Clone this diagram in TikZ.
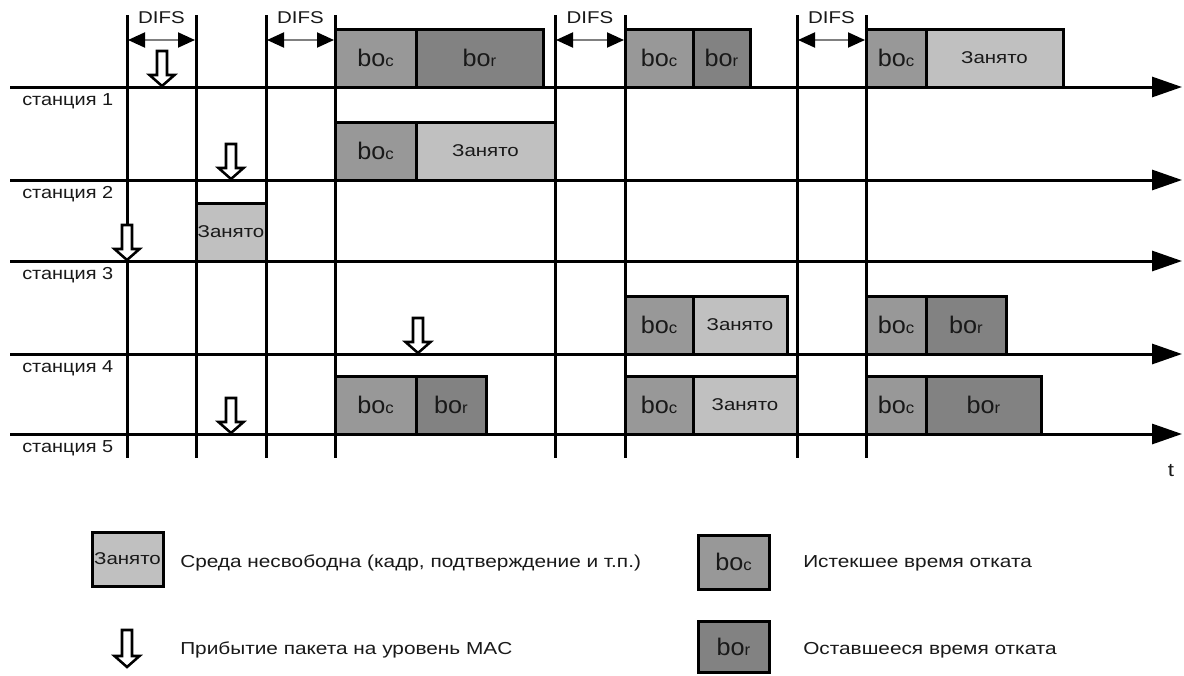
\documentclass[tikz,border=0pt]{standalone}
\usepackage{fontspec}
\setmainfont{Liberation Sans}[FakeStretch=1.2]
\newfontfamily\wideface{Liberation Sans}[FakeStretch=1.15]
\newfontfamily\boface{Liberation Sans}[FakeStretch=1.05]
\usetikzlibrary{arrows.meta}
\definecolor{boc}{RGB}{152,152,152}
\definecolor{bor}{RGB}{130,130,130}
\definecolor{busy}{RGB}{192,192,192}
\newcommand\fs[1]{\fontsize{#1}{#1}\selectfont}
\newcommand\boc{{\boface\fs{18}bo}{\boface\fs{12}c}}
\newcommand\bor{{\boface\fs{18}bo}{\boface\fs{12}r}}
\newcommand\busy{{\fs{12.8}Занято}}
\newcommand\slot[6]{\node[#2,minimum width={(#4-#3)*0.75pt}] (#1) at (#3,#5) {#6};}
\newcommand\pkt[3]{\draw[pkt] ({#1-5},{#2-#3}) -- ({#1+5},{#2-#3}) -- ({#1+5},{#2-11}) -- ({#1+12.5},{#2-11}) -- (#1,#2) -- ({#1-12.5},{#2-11}) -- ({#1-5},{#2-11}) -- cycle;}
\begin{document}
\begin{tikzpicture}[x=0.75pt,y=-0.75pt,
 axis/.style={line width=2.25pt,-{Triangle[length=22.5pt,width=15pt]}},
 vline/.style={line width=2.25pt},
 box/.style={draw,line width=2.25pt,inner sep=0pt,outer sep=0pt,minimum height=43.5pt,anchor=south west,text=black!90},
 bc/.style={box,fill=boc}, br/.style={box,fill=bor}, bz/.style={box,fill=busy},
 difs/.style={line width=1.5pt,draw=gray,{Triangle[length=12.75pt,width=11.25pt,color=black]}-{Triangle[length=12.75pt,width=11.25pt,color=black]}},
 pkt/.style={line width=1.9pt,fill=white,line join=miter},
 lbl/.style={font=\fs{13},anchor=west,inner sep=0pt,text=black!90},
 stn/.style={font=\wideface\fs{13},anchor=west,inner sep=0pt,text=black!90},
 dl/.style={font=\fs{12.8},inner sep=0pt,text=black!90}
]
\useasboundingbox[fill=white] (0,0) rectangle (1184,675);

% boxes, station 1
\slot{a1}{bc}{335}{416}{87}{\boc}
\slot{a2}{br}{416}{543}{87}{\bor}
\slot{a3}{bc}{625}{693}{87}{\boc}
\slot{a4}{br}{693}{750}{87}{\bor}
\slot{a5}{bc}{866}{926}{87}{\boc}
\slot{a6}{bz}{926}{1063}{87}{\busy}
% station 2
\slot{b1}{bc}{335}{416}{180}{\boc}
\slot{b2}{bz}{416}{555}{180}{\busy}
% station 3
\slot{c1}{bz}{196}{266}{261}{\busy}
% station 4
\slot{d1}{bc}{625}{693}{354}{\boc}
\slot{d2}{bz}{693}{787}{354}{\busy}
\slot{d3}{bc}{866}{926}{354}{\boc}
\slot{d4}{br}{926}{1006}{354}{\bor}
% station 5
\slot{e1}{bc}{335}{416}{434}{\boc}
\slot{e2}{br}{416}{486}{434}{\bor}
\slot{e3}{bc}{625}{693}{434}{\boc}
\slot{e4}{bz}{693}{797}{434}{\busy}
\slot{e5}{bc}{866}{926}{434}{\boc}
\slot{e6}{br}{926}{1041}{434}{\bor}

% time axes
\foreach \n/\y in {1/87,2/180,3/261,4/354,5/434}{
  \coordinate (s\n a) at (10,\y);
  \coordinate (s\n b) at (1182,\y);
  \draw[axis] (s\n a) -- (s\n b);
  \node[stn] (lab\n) at (22,\y+14) {станция \n};
}
\node[dl,font=\fs{14}] (t) at (1171,471) {t};

% vertical lines
\foreach \i/\x in {1/127,2/196,3/266,4/335,5/555,6/625,7/797,8/866}{
  \coordinate (v\i t) at (\x,15);
  \coordinate (v\i b) at (\x,458);
  \draw[vline] (v\i t) -- (v\i b);
}

% DIFS
\foreach \a/\b/\xa/\xb in {1/2/127/196,3/4/266/335,5/6/555/625,7/8/797/866}{
  \coordinate (q\a) at (\xa+1,40);
  \coordinate (r\a) at (\xb-1,40);
  \draw[difs] (q\a) -- (r\a);
  \node[dl] (difs\a) at ({(\xa+\xb)/2},18) {DIFS};
}

% packet arrivals
\pkt{162}{86}{35}
\pkt{231}{179}{35}
\pkt{127}{260}{35}
\pkt{418}{353}{35}
\pkt{231}{433}{35}

% legend
\node[bz,minimum width=53.25pt,minimum height=40.5pt,anchor=north west] (lbusy) at (92,532) {\busy};
\node[lbl] (tbusy) at (180,563) {Среда несвободна (кадр, подтверждение и т.п.)};
\pkt{127}{667}{37}
\node[lbl] (tpkt) at (180,650) {Прибытие пакета на уровень MAC};
\node[bc,minimum width=53.25pt,minimum height=40.5pt,anchor=north west] (lboc) at (698,535) {\boc};
\node[lbl] (tboc) at (803,563) {Истекшее время отката};
\node[br,minimum width=53.25pt,minimum height=38.25pt,anchor=north west] (lbor) at (698,621) {\bor};
\node[lbl] (tbor) at (803,650) {Оставшееся время отката};
\end{tikzpicture}
\end{document}
